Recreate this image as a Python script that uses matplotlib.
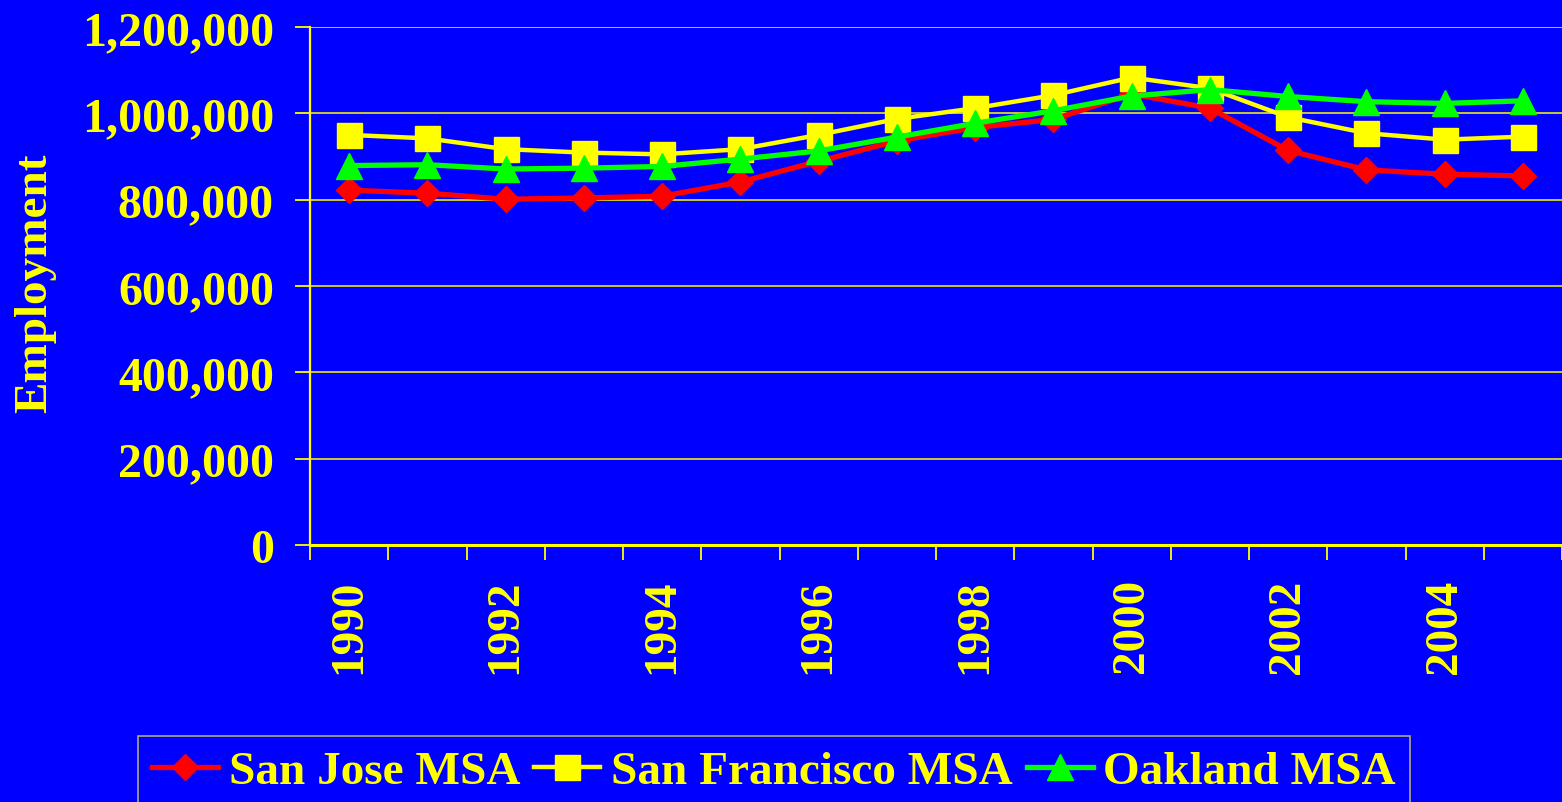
import matplotlib
matplotlib.use('Agg')
import matplotlib.pyplot as plt
from matplotlib.ticker import FixedLocator, StrMethodFormatter

# datos
anios = list(range(1990, 2006))
san_jose = [822000, 815000, 801000, 804000, 808000, 841000, 889000, 936000,
            967000, 986000, 1045000, 1012000, 914000, 869000, 859000, 855000]
san_francisco = [950000, 942000, 917000, 909000, 905000, 917000, 950000, 987000,
                 1012000, 1042000, 1083000, 1058000, 991000, 954000, 939000, 946000]
oakland = [879000, 881000, 871000, 873000, 877000, 894000, 913000, 945000,
           977000, 1006000, 1040000, 1055000, 1039000, 1027000, 1023000, 1029000]
etiquetas_y = [0, 200000, 400000, 600000, 800000, 1000000, 1200000]

AZUL = '#0000FF'
AMARILLO = '#FFFF00'
ROJO = '#FF0000'
VERDE = '#00FF00'

plt.rcParams['font.family'] = ['Liberation Serif', 'DejaVu Serif']
plt.rcParams['font.weight'] = 'bold'

fig = plt.figure(figsize=(15.62, 8.03), dpi=100)
fig.patch.set_facecolor(AZUL)
ax = fig.add_axes([310 / 1562, 1 - 546 / 803, 1252 / 1562, 518 / 803])
ax.set_facecolor(AZUL)

x = list(range(len(anios)))
ax.plot(x, san_jose, color=ROJO, lw=3.8, marker='D', ms=13.5,
        label='San Jose MSA', zorder=3)
ax.plot(x, san_francisco, color=AMARILLO, lw=3.2, marker='s', ms=18,
        label='San Francisco MSA', zorder=4)
ax.plot(x, oakland, color=VERDE, lw=3.8, marker='^', ms=19,
        label='Oakland MSA', zorder=5)

ax.set_xlim(-0.5, len(anios) - 0.5)
ax.set_ylim(0, 1200000)

# ejes y rejilla
for lado in ['top', 'right']:
    ax.spines[lado].set_visible(False)
ax.spines['left'].set_color(AMARILLO)
ax.spines['left'].set_linewidth(1.6)
ax.spines['bottom'].set_color(AMARILLO)
ax.spines['bottom'].set_linewidth(2.2)
ax.set_yticks(etiquetas_y)
ax.yaxis.set_major_formatter(StrMethodFormatter('{x:,.0f}'))
ax.grid(axis='y', color=AMARILLO, lw=1.1, zorder=1)
ax.set_axisbelow(True)

ax.set_xticks(x[::2])
ax.set_xticklabels([str(a) for a in anios[::2]], rotation=90)
ax.xaxis.set_minor_locator(FixedLocator([i - 0.5 for i in range(len(anios) + 1)]))
ax.tick_params(axis='x', which='major', length=0, pad=24,
               labelsize=34, labelcolor=AMARILLO)
ax.tick_params(axis='x', which='minor', length=11, width=1.3,
               color=AMARILLO, direction='out')
ax.tick_params(axis='y', length=11, width=1.3, color=AMARILLO, pad=15,
               labelsize=34.5, labelcolor=AMARILLO)
for t in ax.get_xticklabels() + ax.get_yticklabels():
    t.set_fontweight('bold')

ax.set_ylabel('Employment', color=AMARILLO, fontsize=34, fontweight='bold')
ax.yaxis.set_label_coords(-0.203, 0.507)

leg = fig.legend(loc='upper center', bbox_to_anchor=(774 / 1562, 1 - 737 / 803),
                 ncol=3, frameon=True, fancybox=False, fontsize=34,
                 handlelength=1.4, handletextpad=0.22, columnspacing=0.3,
                 borderpad=0.3, borderaxespad=0)
leg.get_frame().set_facecolor(AZUL)
leg.get_frame().set_edgecolor('#D8D860')
leg.get_frame().set_linewidth(1.2)
for t in leg.get_texts():
    t.set_color(AMARILLO)
    t.set_fontweight('bold')

fig.savefig('out.png', dpi=100, facecolor=AZUL)
